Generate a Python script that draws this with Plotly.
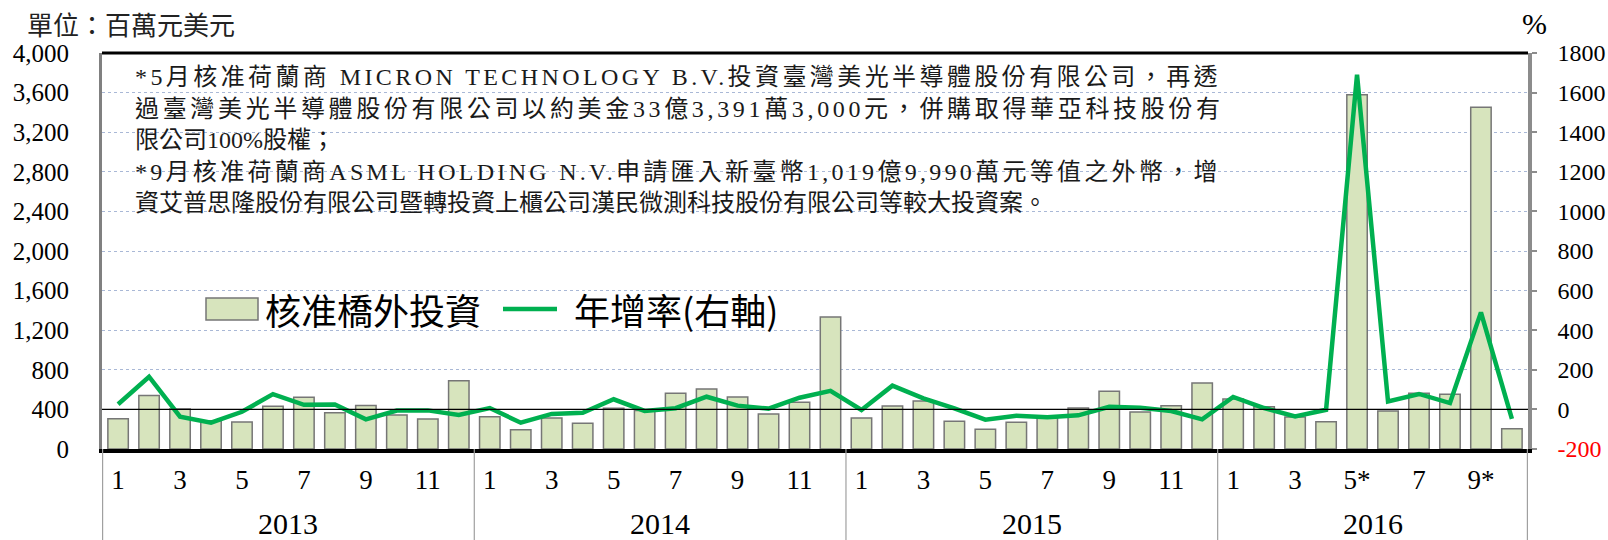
import plotly.graph_objects as go

# ---------------- data ----------------
years = ["2013", "2014", "2015", "2016"]
months_in_year = [12, 12, 12, 10]
month_labels_2016 = ["1", "2", "3", "4", "5*", "6", "7", "8", "9*", "10"]

invest_2013 = [305, 541, 404, 285, 272, 432, 523, 365, 439, 343, 303, 690]
invest_2014 = [327, 195, 314, 261, 411, 390, 564, 607, 525, 353, 471, 1334]
invest_2015 = [314, 435, 485, 280, 199, 270, 318, 414, 584, 374, 437, 666]
invest_2016 = [505, 427, 323, 276, 3579, 384, 562, 552, 3451, 205]

growth_2013 = [26, 165, -37, -67, -12, 77, 23, 25, -50, -6, -5, -28]
growth_2014 = [7, -67, -23, -17, 51, -8, 6, 64, 19, 4, 59, 94]
growth_2015 = [-3, 120, 56, 5, -52, -32, -40, -30, 13, 8, -8, -50]
growth_2016 = [63, 7, -35, -2, 1690, 40, 78, 32, 490, -48]

left_ticks = [0, 400, 800, 1200, 1600, 2000, 2400, 2800, 3200, 3600, 4000]
right_ticks = [-200, 0, 200, 400, 600, 800, 1000, 1200, 1400, 1600, 1800]

unit_label = "單位：百萬元美元"
pct_label = "%"
bar_name = "核准橋外投資"
line_name = "年增率(右軸)"
note_lines = [
    "*5月核准荷蘭商 MICRON TECHNOLOGY B.V.投資臺灣美光半導體股份有限公司，再透",
    "過臺灣美光半導體股份有限公司以約美金33億3,391萬3,000元，併購取得華亞科技股份有",
    "限公司100%股權；",
    "*9月核准荷蘭商ASML HOLDING N.V.申請匯入新臺幣1,019億9,990萬元等值之外幣，增",
    "資艾普思隆股份有限公司暨轉投資上櫃公司漢民微測科技股份有限公司等較大投資案。",
]

# ---------------- derived ----------------
invest = invest_2013 + invest_2014 + invest_2015 + invest_2016
growth = growth_2013 + growth_2014 + growth_2015 + growth_2016

cats, mlabels = [], []
for y, n in zip(years, months_in_year):
    for m in range(1, n + 1):
        cats.append(f"{y}/{m}")
        mlabels.append(month_labels_2016[m - 1] if y == "2016" else str(m))

tickvals = [c for c, lab in zip(cats, mlabels) if int(lab.rstrip("*")) % 2 == 1]
ticktext = [lab for c, lab in zip(cats, mlabels) if int(lab.rstrip("*")) % 2 == 1]

SERIF = "Liberation Serif, Noto Sans CJK TC"
CJK = "Noto Sans CJK TC, Noto Sans CJK SC"
BAR_FILL = "#D7E4BD"
BAR_EDGE = "#767676"
GREEN = "#00B050"

# layout geometry (pixels)
W, H = 1608, 540
L, R, T, B = 102, 80, 53, 91
PW, PH = W - L - R, H - T - B


def px_x(x):
    return (x - L) / PW


def px_y(y):
    return (H - B - y) / PH


fig = go.Figure()
fig.add_trace(go.Bar(
    x=cats, y=invest, name=bar_name,
    marker=dict(color=BAR_FILL, line=dict(color=BAR_EDGE, width=1.5)),
    yaxis="y", showlegend=False,
))
fig.add_trace(go.Scatter(
    x=cats, y=growth, name=line_name, mode="lines",
    line=dict(color=GREEN, width=4.5),
    yaxis="y2", showlegend=False,
))

right_text = [f'<span style="color:#FF0000">{v}</span>' if v < 0 else str(v) for v in right_ticks]

fig.update_layout(
    width=W, height=H,
    margin=dict(l=L, r=R, t=T, b=B, autoexpand=False),
    paper_bgcolor="white", plot_bgcolor="white",
    bargap=0.34,
    font=dict(family=SERIF, color="black"),
    xaxis=dict(
        type="category", categoryorder="array", categoryarray=cats,
        tickmode="array", tickvals=tickvals, ticktext=ticktext,
        tickfont=dict(family=SERIF, size=27, color="black"),
        ticks="", showline=True, linecolor="black", linewidth=3.5,
        showgrid=False, ticklabelstandoff=4, zeroline=False, automargin=False,
    ),
    yaxis=dict(
        range=[0, 4000], tickmode="array", tickvals=left_ticks,
        tickformat=",", tickfont=dict(family=SERIF, size=25, color="black"),
        showline=True, linecolor="#808080", linewidth=3,
        showgrid=True, gridcolor="#A9B8D6", griddash="dot", gridwidth=1,
        zeroline=False, ticks="", ticklabelstandoff=25, automargin=False,
    ),
    yaxis2=dict(
        range=[-200, 1800], overlaying="y", side="right",
        tickmode="array", tickvals=right_ticks, ticktext=right_text,
        tickfont=dict(family=SERIF, size=24, color="black"),
        showline=True, linecolor="#8C8C8C", linewidth=3.5,
        showgrid=False, zeroline=False,
        ticks="outside", ticklen=5, tickcolor="#8C8C8C", tickwidth=1.5,
        ticklabelstandoff=16, automargin=False,
    ),
)

shapes = []
shapes.append(dict(type="line", xref="paper", yref="paper", x0=0, x1=1, y0=1, y1=1,
                   line=dict(color="black", width=3)))
shapes.append(dict(type="line", xref="paper", yref="y2", x0=0, x1=1, y0=0, y1=0,
                   line=dict(color="black", width=1.2)))
start = 0
bounds = [-0.5]
for n in months_in_year:
    start += n
    bounds.append(start - 0.5)
for b in bounds:
    shapes.append(dict(type="line", xref="x", yref="paper", x0=b, x1=b, y0=0, y1=-0.235,
                       line=dict(color="#A0A0A0", width=1.2)))
# manual legend
shapes.append(dict(type="rect", xref="paper", yref="paper",
                   x0=px_x(206), x1=px_x(258), y0=px_y(320), y1=px_y(298),
                   fillcolor=BAR_FILL, line=dict(color=BAR_EDGE, width=1.5)))
shapes.append(dict(type="line", xref="paper", yref="paper",
                   x0=px_x(503), x1=px_x(557), y0=px_y(309), y1=px_y(309),
                   line=dict(color=GREEN, width=4.5)))

annotations = []
start = 0
for y, n in zip(years, months_in_year):
    annotations.append(dict(x=start + (n - 1) / 2, xref="x", y=px_y(523), yref="paper",
                            text=y, showarrow=False, yanchor="middle",
                            font=dict(family=SERIF, size=30, color="black")))
    start += n
annotations.append(dict(x=px_x(25), xref="paper", xanchor="left", y=px_y(23), yref="paper",
                        yanchor="middle", text=unit_label, showarrow=False,
                        font=dict(family=CJK, size=26, color="#222222")))
annotations.append(dict(x=px_x(1534), xref="paper", xanchor="center",
                        y=px_y(23), yref="paper", yanchor="middle",
                        text=pct_label, showarrow=False,
                        font=dict(family=SERIF, size=30, color="black")))
# note lines (justified lines get letter spacing)
line_y = [77, 108.7, 140.3, 171.5, 203]
spacing = [3.41, 3.66, 0, 3.29, 0]
for txt, yy, sp in zip(note_lines, line_y, spacing):
    t = f'<span style="letter-spacing:{sp}px">{txt}</span>' if sp else txt
    annotations.append(dict(x=px_x(133), xref="paper", xanchor="left",
                            y=px_y(yy), yref="paper", yanchor="middle",
                            text=t, align="left", showarrow=False,
                            font=dict(family=SERIF, size=24, color="#1A1A1A")))
annotations.append(dict(x=px_x(263), xref="paper", xanchor="left",
                        y=px_y(309), yref="paper", yanchor="middle",
                        text=bar_name, showarrow=False,
                        font=dict(family=CJK, size=36, color="black")))
annotations.append(dict(x=px_x(572), xref="paper", xanchor="left",
                        y=px_y(309), yref="paper", yanchor="middle",
                        text=line_name, showarrow=False,
                        font=dict(family="Noto Sans CJK TC", size=36, color="black")))

fig.update_layout(shapes=shapes, annotations=annotations)

fig.write_html("out.html", config={"displayModeBar": False},
               post_script="document.body.style.margin='0';document.body.style.overflow='hidden';")
